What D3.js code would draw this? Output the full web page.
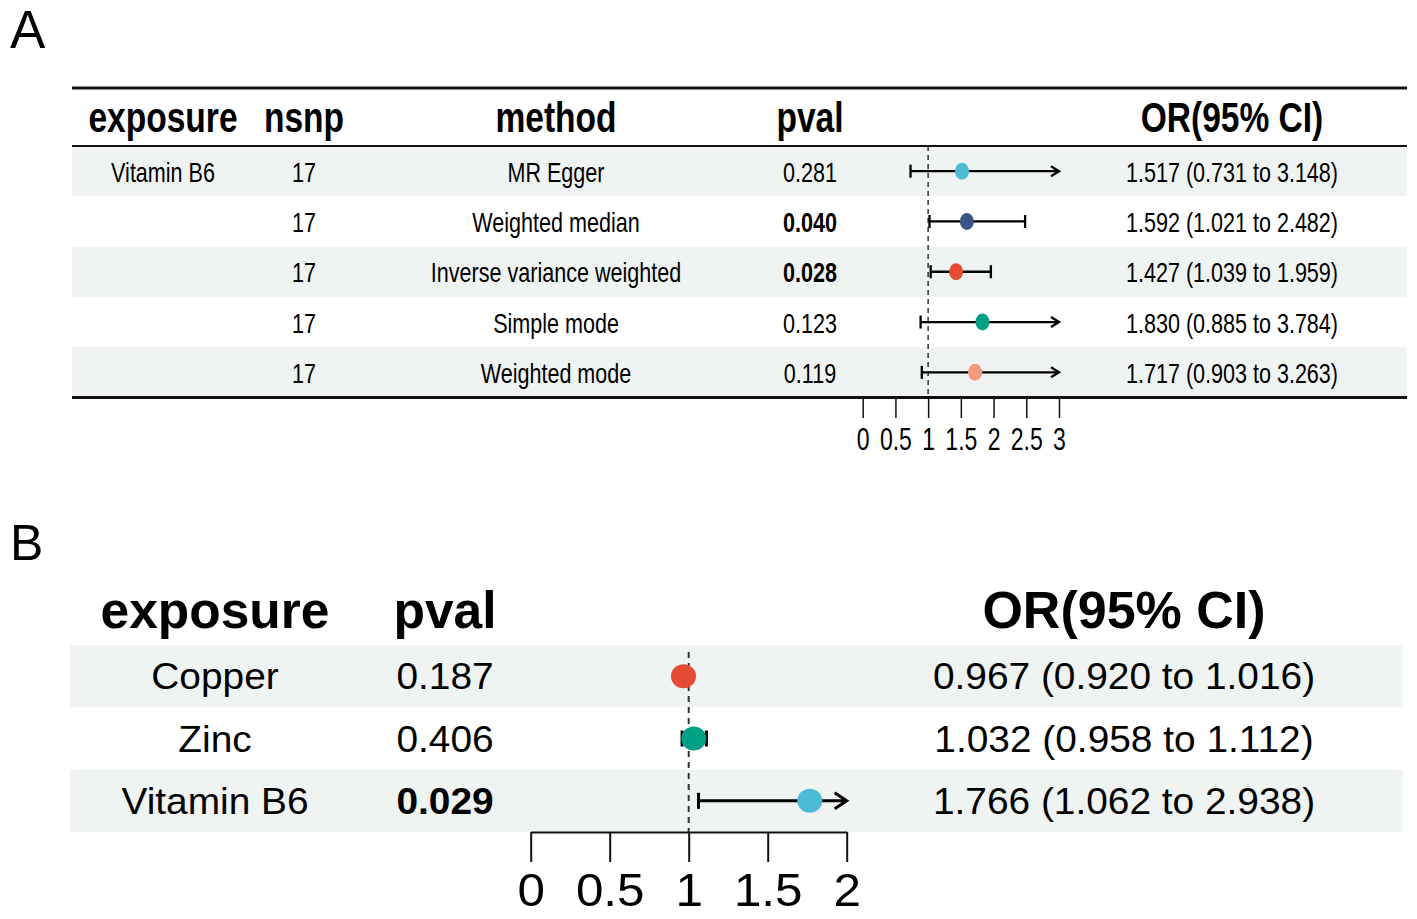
<!DOCTYPE html>
<html lang="en">
<head>
  <meta charset="UTF-8" />
  <title>Forest plots A and B</title>
  <script src="https://d3js.org/d3.v7.min.js"></script>
  <style>
    body {
      margin: 0;
      background: #fff;
      font-family: "Liberation Sans", Arial, Helvetica, sans-serif;
    }
  </style>
</head>
<body>
  <div id="chart"></div>

  <script>
    // ----- Panel A data (one exposure, five MR methods) -----
    const exposureA = ["Vitamin B6", "", "", "", ""];
    const nsnpA     = [17, 17, 17, 17, 17];
    const methodA   = ["MR Egger", "Weighted median", "Inverse variance weighted", "Simple mode", "Weighted mode"];
    const pvalA     = [0.281, 0.040, 0.028, 0.123, 0.119];
    const orA       = [1.517, 1.592, 1.427, 1.830, 1.717];
    const lowA      = [0.731, 1.021, 1.039, 0.885, 0.903];
    const highA     = [3.148, 2.482, 1.959, 3.784, 3.263];
    const colorA    = ["#4DBBD5", "#3C5488", "#E64B35", "#00A087", "#F39B7F"];
    const ticksA    = [0, 0.5, 1, 1.5, 2, 2.5, 3];

    // ----- Panel B data (IVW per exposure) -----
    const exposureB = ["Copper", "Zinc", "Vitamin B6"];
    const pvalB     = [0.187, 0.406, 0.029];
    const orB       = [0.967, 1.032, 1.766];
    const lowB      = [0.920, 0.958, 1.062];
    const highB     = [1.016, 1.112, 2.938];
    const colorB    = ["#E64B35", "#00A087", "#4DBBD5"];
    const ticksB    = [0, 0.5, 1, 1.5, 2];

    const W = 1417, H = 919;
    const shade = "#eff3f2";
    const fmt3 = d3.format(".3f");
    const orText = (o, l, h) => `${fmt3(o)} (${fmt3(l)} to ${fmt3(h)})`;

    const svg = d3.select("#chart").append("svg")
      .attr("width", W)
      .attr("height", H);

    svg.append("rect").attr("width", W).attr("height", H).attr("fill", "#fff");

    // text helper, sx squeezes the glyphs horizontally (panel A is condensed)
    function label(g, x, y, txt, size, sx, bold) {
      return g.append("text")
        .attr("transform", `translate(${x},${y}) scale(${sx},1)`)
        .attr("text-anchor", "middle")
        .attr("font-size", size + "px")
        .attr("font-weight", bold ? "bold" : "normal")
        .attr("fill", "#000")
        .text(txt);
    }

    // draws the CI whiskers + points for one panel
    function drawCI(g, x, y, or, low, high, colors, o) {
      const [dmin, dmax] = x.domain();
      or.forEach((v, i) => {
        const cy = y(i) + y.bandwidth() / 2;
        const x1 = x(Math.max(low[i], dmin));
        const x2 = x(Math.min(high[i], dmax));
        g.append("line")
          .attr("x1", x1).attr("x2", x2)
          .attr("y1", cy).attr("y2", cy)
          .attr("stroke", "#000").attr("stroke-width", o.lw);
        // left end
        g.append("line")
          .attr("x1", x1).attr("x2", x1)
          .attr("y1", cy - o.cap).attr("y2", cy + o.cap)
          .attr("stroke", "#000").attr("stroke-width", o.lw);
        // right end: arrow if the CI runs off the axis
        if (high[i] > dmax) {
          g.append("path")
            .attr("d", `M${x2 - o.ah},${cy - o.aw}L${x2},${cy}L${x2 - o.ah},${cy + o.aw}`)
            .attr("fill", "none")
            .attr("stroke", "#000").attr("stroke-width", o.lw);
        } else {
          g.append("line")
            .attr("x1", x2).attr("x2", x2)
            .attr("y1", cy - o.cap).attr("y2", cy + o.cap)
            .attr("stroke", "#000").attr("stroke-width", o.lw);
        }
        g.append("ellipse")
          .attr("cx", x(v)).attr("cy", cy)
          .attr("rx", o.rx).attr("ry", o.ry)
          .attr("fill", colors[i]);
      });
    }

    // ===================== Panel A =====================
    const gA = svg.append("g");
    const kA = 0.77;
    const xA = d3.scaleLinear().domain([0, 3]).range([862.7, 1059]);
    const yA = d3.scaleBand().domain(d3.range(methodA.length)).range([146, 397.5]);

    svg.append("text")
      .attr("x", 10).attr("y", 48)
      .attr("font-size", "53px")
      .text("A");

    // row shading
    gA.selectAll("rect.row")
      .data(d3.range(methodA.length).filter(i => i % 2 === 0))
      .join("rect")
      .attr("x", 72).attr("width", 1335)
      .attr("y", i => yA(i)).attr("height", yA.bandwidth())
      .attr("fill", shade);

    // rules
    [[88, 3], [146, 2], [397.5, 3]].forEach(([yy, w]) => {
      gA.append("line")
        .attr("x1", 72).attr("x2", 1407)
        .attr("y1", yy).attr("y2", yy)
        .attr("stroke", "#111").attr("stroke-width", w);
    });

    // header
    const colA = { exposure: 163, nsnp: 304, method: 556, pval: 810, or: 1232 };
    label(gA, colA.exposure, 132, "exposure", 43, 0.78, true);
    label(gA, colA.nsnp, 132, "nsnp", 43, 0.78, true);
    label(gA, colA.method, 132, "method", 43, 0.78, true);
    label(gA, colA.pval, 132, "pval", 43, 0.78, true);
    label(gA, colA.or, 132, "OR(95% CI)", 43, 0.78, true);

    // table cells
    methodA.forEach((m, i) => {
      const by = yA(i) + yA.bandwidth() / 2 + 10.5;
      label(gA, colA.exposure, by, exposureA[i], 28, kA, false);
      label(gA, colA.nsnp, by, nsnpA[i], 28, kA, false);
      label(gA, colA.method, by, m, 28, kA, false);
      label(gA, colA.pval, by, fmt3(pvalA[i]), 28, kA, pvalA[i] < 0.05);
      label(gA, colA.or, by, orText(orA[i], lowA[i], highA[i]), 28, kA, false);
    });

    // reference line at OR = 1
    gA.append("line")
      .attr("x1", xA(1)).attr("x2", xA(1))
      .attr("y1", 146).attr("y2", 397)
      .attr("stroke", "#333").attr("stroke-width", 1.5)
      .attr("stroke-dasharray", "5,4");

    drawCI(gA, xA, yA, orA, lowA, highA, colorA, { lw: 2.3, cap: 6.5, ah: 8, aw: 5, rx: 7, ry: 8.5 });

    // axis A (table rule acts as the baseline)
    const axA = gA.append("g")
      .attr("transform", "translate(0,398)")
      .call(d3.axisBottom(xA).tickValues(ticksA).tickSize(20).tickSizeOuter(0).tickPadding(9).tickFormat(d3.format("")));
    axA.select(".domain").remove();
    axA.selectAll(".tick line").attr("stroke", "#111").attr("stroke-width", 1.5);
    axA.selectAll(".tick text")
      .attr("font-size", "32px")
      .attr("font-family", "Liberation Sans, Arial, sans-serif")
      .attr("fill", "#000")
      .attr("transform", "scale(0.72,1)");

    // ===================== Panel B =====================
    const gB = svg.append("g");
    const kB = 1.05;
    const xB = d3.scaleLinear().domain([0, 2]).range([530.7, 846.7]);
    const yB = d3.scaleBand().domain(d3.range(exposureB.length)).range([645, 832]);

    svg.append("text")
      .attr("x", 10).attr("y", 560)
      .attr("font-size", "50px")
      .text("B");

    gB.selectAll("rect.row")
      .data(d3.range(exposureB.length).filter(i => i % 2 === 0))
      .join("rect")
      .attr("x", 70).attr("width", 1333)
      .attr("y", i => yB(i)).attr("height", yB.bandwidth())
      .attr("fill", shade);

    const colB = { exposure: 215, pval: 445, or: 1124 };
    label(gB, colB.exposure, 628, "exposure", 51, 1.01, true);
    label(gB, colB.pval, 628, "pval", 51, 1.01, true);
    label(gB, colB.or, 628, "OR(95% CI)", 51, 1.02, true);

    exposureB.forEach((e, i) => {
      const by = yB(i) + yB.bandwidth() / 2 + 13;
      label(gB, colB.exposure, by, e, 37, kB, false);
      label(gB, colB.pval, by, fmt3(pvalB[i]), 37, kB, pvalB[i] < 0.05);
      label(gB, colB.or, by, orText(orB[i], lowB[i], highB[i]), 37, kB, false);
    });

    gB.append("line")
      .attr("x1", xB(1)).attr("x2", xB(1))
      .attr("y1", 652).attr("y2", 832)
      .attr("stroke", "#333").attr("stroke-width", 2)
      .attr("stroke-dasharray", "6,5");

    drawCI(gB, xB, yB, orB, lowB, highB, colorB, { lw: 3, cap: 8, ah: 12, aw: 8, rx: 12.5, ry: 12 });

    const axB = gB.append("g")
      .attr("transform", "translate(0,832)")
      .call(d3.axisBottom(xB).tickValues(ticksB).tickSize(30).tickSizeOuter(0).tickPadding(11).tickFormat(d3.format("")));
    axB.select(".domain").attr("stroke", "#111").attr("stroke-width", 2);
    axB.selectAll(".tick line").attr("stroke", "#111").attr("stroke-width", 2);
    axB.selectAll(".tick text")
      .attr("font-size", "47px")
      .attr("font-family", "Liberation Sans, Arial, sans-serif")
      .attr("fill", "#000")
      .attr("transform", `scale(${kB},1)`);
  </script>
</body>
</html>
